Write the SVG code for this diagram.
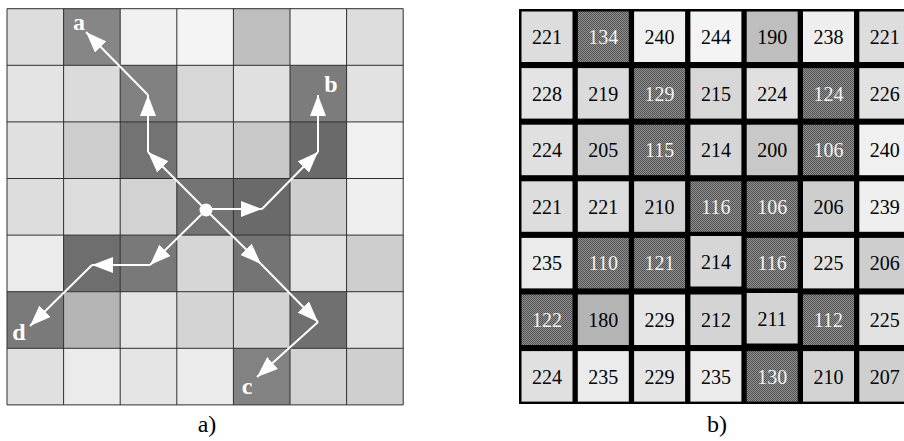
<svg xmlns="http://www.w3.org/2000/svg" width="904" height="441" viewBox="0 0 904 441">
<style>
.gl{stroke:#2e2e2e;stroke-width:1;fill:none}
.arw{stroke:#fff;stroke-width:2;fill:none;marker-end:url(#ah)}
text{font-family:"Times New Roman","Liberation Serif","DejaVu Serif",serif}
.lbl{font-weight:bold;font-size:24px;fill:#fff;text-anchor:middle}
.cap{font-size:24px;fill:#000;text-anchor:middle}
.num{font-size:20px;fill:#000;text-anchor:middle}
.numd{font-size:20px;fill:#f2f2f2;text-anchor:middle}
</style>
<defs>
<marker id="ah" markerUnits="userSpaceOnUse" markerWidth="22" markerHeight="16" refX="21" refY="8" orient="auto">
<path d="M0,0 L21,8 L0,16 Z" fill="#fff"/>
</marker>
<pattern id="dith" width="2" height="2" patternUnits="userSpaceOnUse">
<rect width="2" height="2" fill="#929292"/>
<rect width="1" height="1" fill="#505050"/>
<rect x="1" y="1" width="1" height="1" fill="#505050"/>
</pattern>
</defs>

<!-- Panel a: shaded grid -->
<g id="grid-a">
<g id="a-r0">
<rect x="7" y="8.7" width="56.6" height="56.6" fill="#dddddd"/>
<rect x="63.6" y="8.7" width="56.6" height="56.6" fill="#868686"/>
<rect x="120.2" y="8.7" width="56.6" height="56.6" fill="#f0f0f0"/>
<rect x="176.8" y="8.7" width="56.6" height="56.6" fill="#f4f4f4"/>
<rect x="233.4" y="8.7" width="56.6" height="56.6" fill="#bebebe"/>
<rect x="290" y="8.7" width="56.6" height="56.6" fill="#eeeeee"/>
<rect x="346.6" y="8.7" width="56.6" height="56.6" fill="#dddddd"/>
</g>
<g id="a-r1">
<rect x="7" y="65.3" width="56.6" height="56.6" fill="#e4e4e4"/>
<rect x="63.6" y="65.3" width="56.6" height="56.6" fill="#dbdbdb"/>
<rect x="120.2" y="65.3" width="56.6" height="56.6" fill="#818181"/>
<rect x="176.8" y="65.3" width="56.6" height="56.6" fill="#d7d7d7"/>
<rect x="233.4" y="65.3" width="56.6" height="56.6" fill="#e0e0e0"/>
<rect x="290" y="65.3" width="56.6" height="56.6" fill="#7c7c7c"/>
<rect x="346.6" y="65.3" width="56.6" height="56.6" fill="#e2e2e2"/>
</g>
<g id="a-r2">
<rect x="7" y="121.9" width="56.6" height="56.6" fill="#e0e0e0"/>
<rect x="63.6" y="121.9" width="56.6" height="56.6" fill="#cdcdcd"/>
<rect x="120.2" y="121.9" width="56.6" height="56.6" fill="#737373"/>
<rect x="176.8" y="121.9" width="56.6" height="56.6" fill="#d6d6d6"/>
<rect x="233.4" y="121.9" width="56.6" height="56.6" fill="#c8c8c8"/>
<rect x="290" y="121.9" width="56.6" height="56.6" fill="#6a6a6a"/>
<rect x="346.6" y="121.9" width="56.6" height="56.6" fill="#f0f0f0"/>
</g>
<g id="a-r3">
<rect x="7" y="178.5" width="56.6" height="56.6" fill="#dddddd"/>
<rect x="63.6" y="178.5" width="56.6" height="56.6" fill="#dddddd"/>
<rect x="120.2" y="178.5" width="56.6" height="56.6" fill="#d2d2d2"/>
<rect x="176.8" y="178.5" width="56.6" height="56.6" fill="#747474"/>
<rect x="233.4" y="178.5" width="56.6" height="56.6" fill="#6a6a6a"/>
<rect x="290" y="178.5" width="56.6" height="56.6" fill="#cecece"/>
<rect x="346.6" y="178.5" width="56.6" height="56.6" fill="#efefef"/>
</g>
<g id="a-r4">
<rect x="7" y="235.1" width="56.6" height="56.6" fill="#ebebeb"/>
<rect x="63.6" y="235.1" width="56.6" height="56.6" fill="#6e6e6e"/>
<rect x="120.2" y="235.1" width="56.6" height="56.6" fill="#797979"/>
<rect x="176.8" y="235.1" width="56.6" height="56.6" fill="#d6d6d6"/>
<rect x="233.4" y="235.1" width="56.6" height="56.6" fill="#747474"/>
<rect x="290" y="235.1" width="56.6" height="56.6" fill="#e1e1e1"/>
<rect x="346.6" y="235.1" width="56.6" height="56.6" fill="#cecece"/>
</g>
<g id="a-r5">
<rect x="7" y="291.7" width="56.6" height="56.6" fill="#7a7a7a"/>
<rect x="63.6" y="291.7" width="56.6" height="56.6" fill="#b4b4b4"/>
<rect x="120.2" y="291.7" width="56.6" height="56.6" fill="#e5e5e5"/>
<rect x="176.8" y="291.7" width="56.6" height="56.6" fill="#d4d4d4"/>
<rect x="233.4" y="291.7" width="56.6" height="56.6" fill="#d3d3d3"/>
<rect x="290" y="291.7" width="56.6" height="56.6" fill="#707070"/>
<rect x="346.6" y="291.7" width="56.6" height="56.6" fill="#e1e1e1"/>
</g>
<g id="a-r6">
<rect x="7" y="348.3" width="56.6" height="56.6" fill="#e0e0e0"/>
<rect x="63.6" y="348.3" width="56.6" height="56.6" fill="#ebebeb"/>
<rect x="120.2" y="348.3" width="56.6" height="56.6" fill="#e5e5e5"/>
<rect x="176.8" y="348.3" width="56.6" height="56.6" fill="#ebebeb"/>
<rect x="233.4" y="348.3" width="56.6" height="56.6" fill="#828282"/>
<rect x="290" y="348.3" width="56.6" height="56.6" fill="#d2d2d2"/>
<rect x="346.6" y="348.3" width="56.6" height="56.6" fill="#cfcfcf"/>
</g>
<path class="gl" d="M7,8.7V404.9M63.6,8.7V404.9M120.2,8.7V404.9M176.8,8.7V404.9M233.4,8.7V404.9M290,8.7V404.9M346.6,8.7V404.9M403.2,8.7V404.9M7,8.7H403.2M7,65.3H403.2M7,121.9H403.2M7,178.5H403.2M7,235.1H403.2M7,291.7H403.2M7,348.3H403.2M7,404.9H403.2"/>
</g>

<!-- connectors -->
<g id="connectors">
<line class="arw" x1="206" y1="210" x2="148" y2="152"/>
<line class="arw" x1="148" y1="152" x2="148" y2="95"/>
<line class="arw" x1="148" y1="95" x2="86" y2="32"/>
<line class="arw" x1="206" y1="209" x2="262" y2="209"/>
<line class="arw" x1="262" y1="209" x2="318" y2="152"/>
<line class="arw" x1="318" y1="152" x2="318" y2="95"/>
<line class="arw" x1="206" y1="210" x2="261" y2="264"/>
<line class="arw" x1="261" y1="264" x2="318" y2="322"/>
<line class="arw" x1="318" y1="322" x2="257" y2="377"/>
<line class="arw" x1="206" y1="210" x2="150" y2="265"/>
<line class="arw" x1="150" y1="265" x2="92" y2="265"/>
<line class="arw" x1="92" y1="265" x2="30" y2="326"/>
</g>
<g id="center"><circle cx="206" cy="210" r="6.5" fill="#fff"/></g>
<g id="label-a"><text class="lbl" x="79" y="30">a</text></g>
<g id="label-b"><text class="lbl" x="331" y="92">b</text></g>
<g id="label-c"><text class="lbl" x="247" y="394">c</text></g>
<g id="label-d"><text class="lbl" x="19" y="340">d</text></g>
<text class="cap" x="207" y="432">a)</text>

<!-- Panel b: value grid -->
<g id="grid-b">
<rect x="519" y="9" width="390" height="395" fill="#000"/>
<g id="b-r0">
<rect x="521.5" y="11.5" width="51" height="50.5" fill="#dddddd"/><text class="num" x="547" y="44">221</text>
<rect x="577.8" y="11.5" width="51" height="50.5" fill="url(#dith)"/><text class="numd" x="603.3" y="44">134</text>
<rect x="634.1" y="11.5" width="51" height="50.5" fill="#f0f0f0"/><text class="num" x="659.6" y="44">240</text>
<rect x="690.4" y="11.5" width="51" height="50.5" fill="#f4f4f4"/><text class="num" x="715.9" y="44">244</text>
<rect x="746.7" y="11.5" width="51" height="50.5" fill="#bebebe"/><text class="num" x="772.2" y="44">190</text>
<rect x="803" y="11.5" width="51" height="50.5" fill="#eeeeee"/><text class="num" x="828.5" y="44">238</text>
<rect x="859.3" y="11.5" width="51" height="50.5" fill="#dddddd"/><text class="num" x="884.8" y="44">221</text>
</g>
<g id="b-r1">
<rect x="521.5" y="68.1" width="51" height="50.5" fill="#e4e4e4"/><text class="num" x="547" y="100.6">228</text>
<rect x="577.8" y="68.1" width="51" height="50.5" fill="#dbdbdb"/><text class="num" x="603.3" y="100.6">219</text>
<rect x="634.1" y="68.1" width="51" height="50.5" fill="url(#dith)"/><text class="numd" x="659.6" y="100.6">129</text>
<rect x="690.4" y="68.1" width="51" height="50.5" fill="#d7d7d7"/><text class="num" x="715.9" y="100.6">215</text>
<rect x="746.7" y="68.1" width="51" height="50.5" fill="#e0e0e0"/><text class="num" x="772.2" y="100.6">224</text>
<rect x="803" y="68.1" width="51" height="50.5" fill="url(#dith)"/><text class="numd" x="828.5" y="100.6">124</text>
<rect x="859.3" y="68.1" width="51" height="50.5" fill="#e2e2e2"/><text class="num" x="884.8" y="100.6">226</text>
</g>
<g id="b-r2">
<rect x="521.5" y="124.7" width="51" height="50.5" fill="#e0e0e0"/><text class="num" x="547" y="157.2">224</text>
<rect x="577.8" y="124.7" width="51" height="50.5" fill="#cdcdcd"/><text class="num" x="603.3" y="157.2">205</text>
<rect x="634.1" y="124.7" width="51" height="50.5" fill="url(#dith)"/><text class="numd" x="659.6" y="157.2">115</text>
<rect x="690.4" y="124.7" width="51" height="50.5" fill="#d6d6d6"/><text class="num" x="715.9" y="157.2">214</text>
<rect x="746.7" y="124.7" width="51" height="50.5" fill="#c8c8c8"/><text class="num" x="772.2" y="157.2">200</text>
<rect x="803" y="124.7" width="51" height="50.5" fill="url(#dith)"/><text class="numd" x="828.5" y="157.2">106</text>
<rect x="859.3" y="124.7" width="51" height="50.5" fill="#f0f0f0"/><text class="num" x="884.8" y="157.2">240</text>
</g>
<g id="b-r3">
<rect x="521.5" y="181.3" width="51" height="50.5" fill="#dddddd"/><text class="num" x="547" y="213.8">221</text>
<rect x="577.8" y="181.3" width="51" height="50.5" fill="#dddddd"/><text class="num" x="603.3" y="213.8">221</text>
<rect x="634.1" y="181.3" width="51" height="50.5" fill="#d2d2d2"/><text class="num" x="659.6" y="213.8">210</text>
<rect x="690.4" y="181.3" width="51" height="50.5" fill="url(#dith)"/><text class="numd" x="715.9" y="213.8">116</text>
<rect x="746.7" y="181.3" width="51" height="50.5" fill="url(#dith)"/><text class="numd" x="772.2" y="213.8">106</text>
<rect x="803" y="181.3" width="51" height="50.5" fill="#cecece"/><text class="num" x="828.5" y="213.8">206</text>
<rect x="859.3" y="181.3" width="51" height="50.5" fill="#efefef"/><text class="num" x="884.8" y="213.8">239</text>
</g>
<g id="b-r4">
<rect x="521.5" y="237.9" width="51" height="50.5" fill="#ebebeb"/><text class="num" x="547" y="270.4">235</text>
<rect x="577.8" y="237.9" width="51" height="50.5" fill="url(#dith)"/><text class="numd" x="603.3" y="270.4">110</text>
<rect x="634.1" y="237.9" width="51" height="50.5" fill="url(#dith)"/><text class="numd" x="659.6" y="270.4">121</text>
<rect x="690.4" y="236" width="51" height="50.5" fill="#d6d6d6"/><text class="num" x="715.9" y="268.5">214</text>
<rect x="746.7" y="237.9" width="51" height="50.5" fill="url(#dith)"/><text class="numd" x="772.2" y="270.4">116</text>
<rect x="803" y="237.9" width="51" height="50.5" fill="#e1e1e1"/><text class="num" x="828.5" y="270.4">225</text>
<rect x="859.3" y="237.9" width="51" height="50.5" fill="#cecece"/><text class="num" x="884.8" y="270.4">206</text>
</g>
<g id="b-r5">
<rect x="521.5" y="294.5" width="51" height="50.5" fill="url(#dith)"/><text class="numd" x="547" y="327">122</text>
<rect x="577.8" y="294.5" width="51" height="50.5" fill="#b4b4b4"/><text class="num" x="603.3" y="327">180</text>
<rect x="634.1" y="294.5" width="51" height="50.5" fill="#e5e5e5"/><text class="num" x="659.6" y="327">229</text>
<rect x="690.4" y="294.5" width="51" height="50.5" fill="#d4d4d4"/><text class="num" x="715.9" y="327">212</text>
<rect x="746.7" y="293" width="51" height="50.5" fill="#d3d3d3"/><text class="num" x="772.2" y="325.5">211</text>
<rect x="803" y="294.5" width="51" height="50.5" fill="url(#dith)"/><text class="numd" x="828.5" y="327">112</text>
<rect x="859.3" y="294.5" width="51" height="50.5" fill="#e1e1e1"/><text class="num" x="884.8" y="327">225</text>
</g>
<g id="b-r6">
<rect x="521.5" y="351.1" width="51" height="50.5" fill="#e0e0e0"/><text class="num" x="547" y="383.6">224</text>
<rect x="577.8" y="351.1" width="51" height="50.5" fill="#ebebeb"/><text class="num" x="603.3" y="383.6">235</text>
<rect x="634.1" y="351.1" width="51" height="50.5" fill="#e5e5e5"/><text class="num" x="659.6" y="383.6">229</text>
<rect x="690.4" y="351.1" width="51" height="50.5" fill="#ebebeb"/><text class="num" x="715.9" y="383.6">235</text>
<rect x="746.7" y="351.1" width="51" height="50.5" fill="url(#dith)"/><text class="numd" x="772.2" y="383.6">130</text>
<rect x="803" y="351.1" width="51" height="50.5" fill="#d2d2d2"/><text class="num" x="828.5" y="383.6">210</text>
<rect x="859.3" y="351.1" width="51" height="50.5" fill="#cfcfcf"/><text class="num" x="884.8" y="383.6">207</text>
</g>
</g>
<text class="cap" x="717" y="432">b)</text>
</svg>
